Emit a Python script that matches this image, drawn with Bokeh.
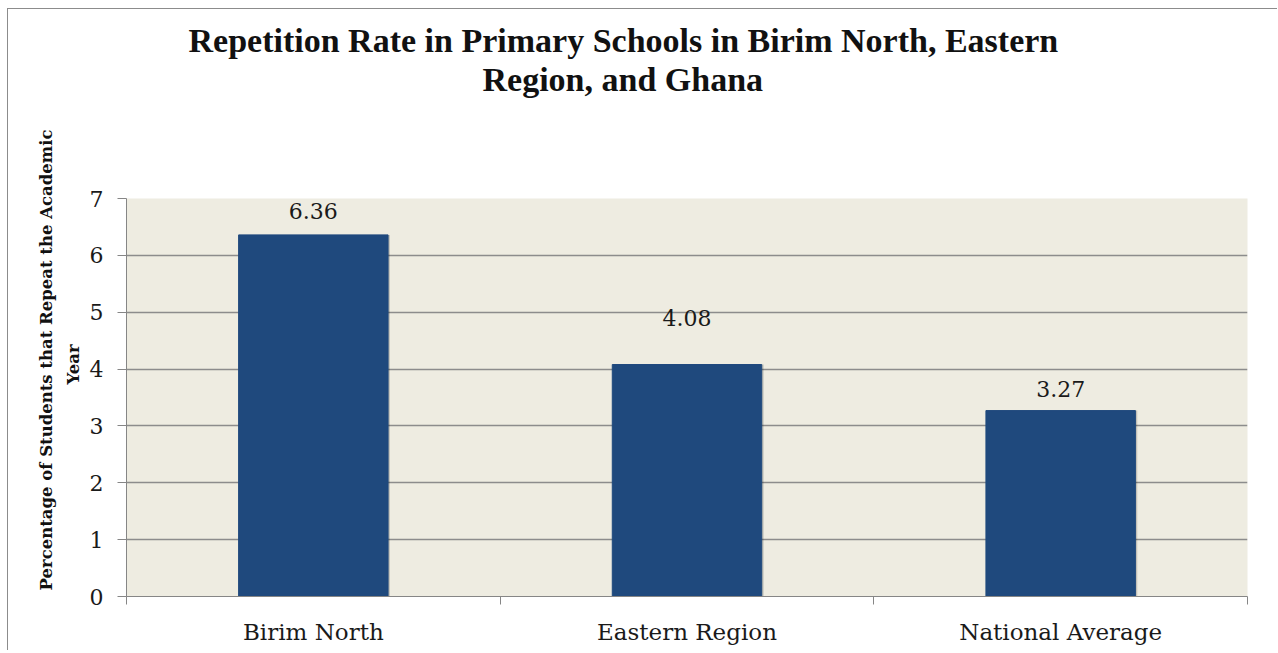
from bokeh.plotting import figure
from bokeh.models import ColumnDataSource, FixedTicker, Title, Range1d
from bokeh.transform import dodge
from bokeh.embed import file_html
from bokeh.resources import INLINE
from bokeh.core.properties import value

categories = ["Birim North", "Eastern Region", "National Average"]
rates = [6.36, 4.08, 3.27]
rate_labels = ["6.36", "4.08", "3.27"]
label_dy = [-24, -47, -22]  # pixel offsets of the value labels above the bars
y_ticks = [0, 1, 2, 3, 4, 5, 6, 7]
title_lines = ["Repetition Rate in Primary Schools in Birim North, Eastern", "Region, and Ghana"]
ylabel_lines = ["Percentage of Students that Repeat the Academic", "Year"]

SERIF = "DejaVu Serif"
TSERIF = "Liberation Serif"
centers = [i + 0.5 for i in range(len(categories))]

src = ColumnDataSource(dict(x=centers, top=rates, txt=rate_labels, dy=label_dy))

p = figure(frame_width=1121, frame_height=398, x_range=Range1d(0, len(categories)),
           y_range=Range1d(0, 7), output_backend="svg", toolbar_location=None,
           min_border_left=118, min_border_top=189, min_border_right=30, min_border_bottom=54,
           background_fill_color="#EEECE1", border_fill_color="white",
           styles={"border-top": "1px solid #8c8c8c", "border-left": "1px solid #8c8c8c",
                   "margin-left": "7px", "margin-top": "8px"})

p.outline_line_color = None

# soft shadow to the right of each bar
p.vbar(x=dodge("x", 0.005, range=p.x_range), top="top", width=0.4, bottom=0, source=src,
       fill_color="#000000", fill_alpha=0.18, line_color=None)
p.vbar(x="x", top="top", width=0.4, bottom=0, source=src,
       fill_color="#1F497D", line_color="#1F497D", line_width=1)

p.text(x="x", y="top", text="txt", y_offset="dy", source=src,
       text_align="center", text_baseline="middle", text_font=value(SERIF),
       text_font_size="22px", text_color="#1a1a1a")

# y axis
p.yaxis.ticker = FixedTicker(ticks=y_ticks)
p.yaxis.major_tick_out = 9
p.yaxis.major_tick_in = 0
p.yaxis.minor_tick_line_color = None
p.yaxis.axis_line_color = "#868686"
p.yaxis.major_tick_line_color = "#868686"
p.yaxis.major_label_text_font = SERIF
p.yaxis.major_label_text_font_size = "22px"
p.yaxis.major_label_text_color = "#1a1a1a"
p.yaxis.major_label_standoff = 14

# x axis: labels at centers, tick marks at boundaries
p.xaxis.ticker = FixedTicker(ticks=centers, minor_ticks=list(range(len(categories) + 1)))
p.xaxis.major_label_overrides = {c: n for c, n in zip(centers, categories)}
p.xaxis.major_tick_line_color = None
p.xaxis.major_tick_out = 0
p.xaxis.minor_tick_out = 8
p.xaxis.minor_tick_in = 0
p.xaxis.minor_tick_line_color = "#868686"
p.xaxis.axis_line_color = "#868686"
p.xaxis.major_label_text_font = SERIF
p.xaxis.major_label_text_font_size = "23px"
p.xaxis.major_label_text_color = "#1a1a1a"
p.xaxis.major_label_standoff = 14

p.xgrid.grid_line_color = None
p.ygrid.ticker = FixedTicker(ticks=y_ticks)
p.ygrid.grid_line_color = "#8c8c8c"
p.ygrid.grid_line_width = 1.3

# title: spacer nearest the frame, then line 2, then line 1
p.add_layout(Title(text=" ", text_font=TSERIF, text_font_size="34px", standoff=62), "above")
for txt, off in zip(reversed(title_lines), [356, 62]):
    p.add_layout(Title(text=txt, align="left", offset=off, standoff=0,
                       text_font=TSERIF, text_font_style="bold", text_font_size="34px",
                       text_color="#111111"), "above")

# y axis title: two rotated lines
p.add_layout(Title(text=ylabel_lines[1], align="left", offset=212, standoff=8,
                   vertical_align="bottom", text_font=SERIF, text_font_style="bold",
                   text_font_size="16.5px", text_color="#111111"), "left")
p.add_layout(Title(text=ylabel_lines[0], align="left", offset=6, standoff=0,
                   vertical_align="top", text_font=SERIF, text_font_style="bold",
                   text_font_size="16.5px", text_color="#111111"), "left")

open("out.html", "w").write(file_html(p, INLINE))
